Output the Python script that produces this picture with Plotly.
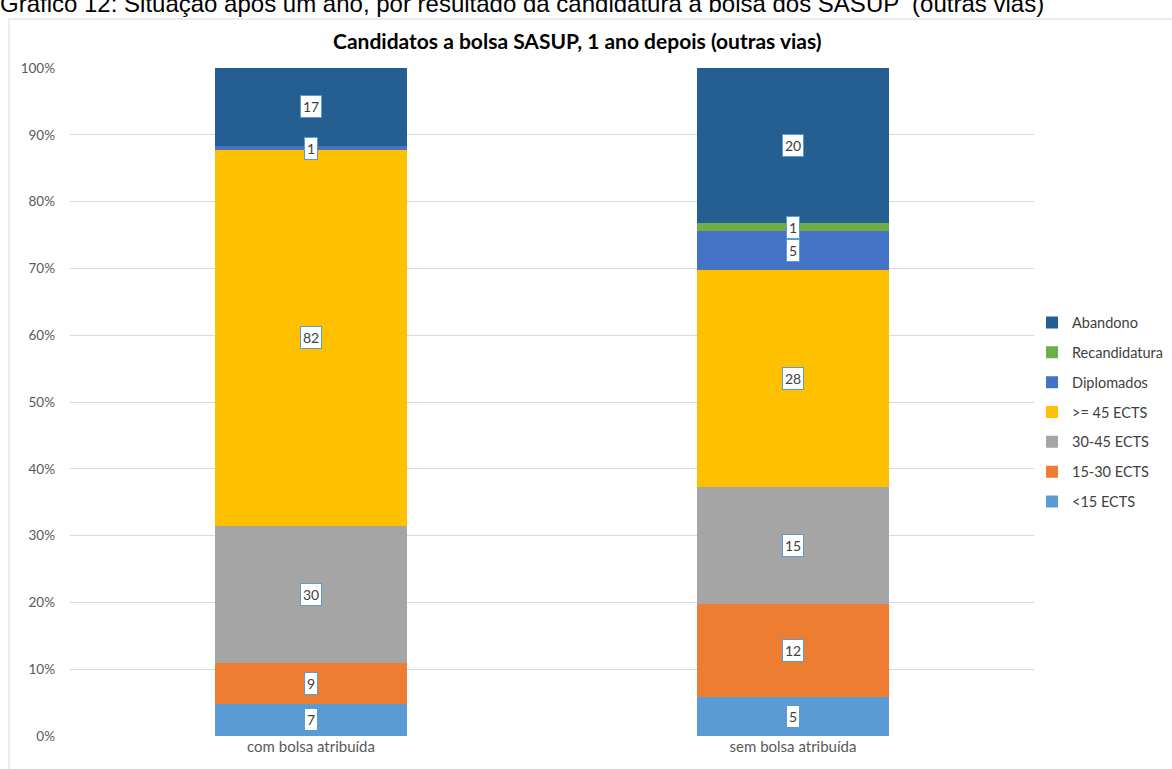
import plotly.graph_objects as go

categories = ["com bolsa atribuída", "sem bolsa atribuída"]
series_names = ["<15 ECTS", "15-30 ECTS", "30-45 ECTS", ">= 45 ECTS", "Diplomados", "Recandidatura", "Abandono"]
lt15 = [7, 5]
e15_30 = [9, 12]
e30_45 = [30, 15]
ge45 = [82, 28]
diplomados = [1, 5]
recandidatura = [0, 1]
abandono = [17, 20]
colors = ["#5B9BD5", "#ED7D31", "#A5A5A5", "#FFC000", "#4472C4", "#70AD47", "#255E91"]

series = [lt15, e15_30, e30_45, ge45, diplomados, recandidatura, abandono]

W, H = 1172, 769
ML, MR, MT, MB = 70, 138, 68, 33
pw, ph = W - ML - MR, H - MT - MB


def px_x(px):
    return (px - ML) / pw


def px_y(py):
    return (H - MB - py) / ph


FONT = "Lato"

fig = go.Figure()
n = len(series)
for k, (name, vals, col) in enumerate(zip(series_names, series, colors)):
    fig.add_trace(go.Bar(
        x=categories, y=vals, name=name, marker=dict(color=col, line=dict(width=0)),
        legendgroup=name, legendrank=n - k, width=0.4,
    ))

# data labels as boxed annotations at the middle of each segment
totals = [sum(s[i] for s in series) for i in range(len(categories))]
for i, cat in enumerate(categories):
    cum = 0
    for vals in series:
        v = vals[i]
        if v > 0:
            mid = (cum + v / 2) / totals[i] * 100
            fig.add_annotation(
                x=cat, y=mid, xref="x", yref="y", text=str(v), showarrow=False,
                bgcolor="white", bordercolor="#5B9BD5", borderwidth=1, borderpad=2,
                font=dict(family=FONT, size=14, color="#404040"),
            )
        cum += v

# chart title
fig.add_annotation(
    x=px_x(577), y=px_y(40), xref="paper", yref="paper",
    text="<b>Candidatos a bolsa SASUP, 1 ano depois (outras vias)</b>", showarrow=False,
    font=dict(family=FONT, size=21, color="#000000"), xanchor="center", yanchor="middle",
)
# caption above (partly cut off)
fig.add_annotation(
    x=px_x(-2), y=px_y(19), xref="paper", yref="paper",
    text="Gráfico 12: Situação após um ano, por resultado da candidatura à bolsa dos SASUP  (outras vias)",
    showarrow=False, font=dict(family="Liberation Sans", size=24, color="#000000"),
    xanchor="left", yanchor="bottom",
)
# chart border
fig.add_shape(
    type="rect", xref="paper", yref="paper",
    x0=px_x(9), x1=px_x(1185), y0=px_y(785), y1=px_y(19),
    line=dict(color="#D9D9D9", width=1), fillcolor="rgba(0,0,0,0)", layer="below",
)

fig.update_layout(
    width=W, height=H,
    margin=dict(l=ML, r=MR, t=MT, b=MB, autoexpand=False),
    barmode="stack", barnorm="percent",
    plot_bgcolor="white", paper_bgcolor="white",
    showlegend=True,
    legend=dict(
        x=px_x(1032), y=px_y(412), xanchor="left", yanchor="middle",
        traceorder="grouped", tracegroupgap=8,
        font=dict(family=FONT, size=14.5, color="#404040"),
        itemwidth=30, bgcolor="rgba(0,0,0,0)",
    ),
    font=dict(family=FONT, size=13, color="#595959"),
)
fig.update_yaxes(
    range=[0, 100], dtick=10, ticksuffix="%", showgrid=True, gridcolor="#D9D9D9",
    gridwidth=1, zeroline=False, showline=False, ticks="", ticklabelstandoff=14,
    tickfont=dict(family=FONT, size=13.5, color="#595959"),
)
fig.update_xaxes(
    showgrid=False, showline=False, ticks="", tickfont=dict(family=FONT, size=15, color="#595959"),
)

fig.write_html("out.html", config={"displayModeBar": False},
               post_script="document.body.style.margin='0';")
